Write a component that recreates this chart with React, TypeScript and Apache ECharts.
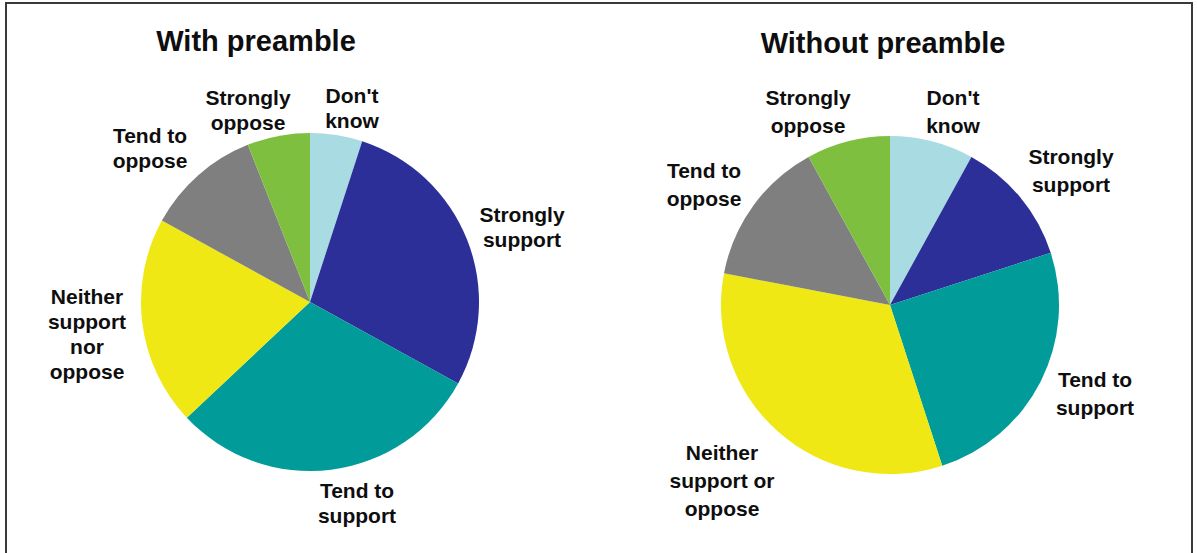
import React, { useEffect, useRef } from "react";
import * as echarts from "echarts";

const categories = [
  "Don't know",
  "Strongly support",
  "Tend to support",
  "Neither support nor oppose",
  "Tend to oppose",
  "Strongly oppose",
];
const withPreamble = [5, 28, 30, 20, 11, 6];
const withoutPreamble = [8, 12, 25, 33, 14, 8];
const labelsWith = [
  "Don't\nknow",
  "Strongly\nsupport",
  "Tend to\nsupport",
  "Neither\nsupport\nnor\noppose",
  "Tend to\noppose",
  "Strongly\noppose",
];
const labelsWithout = [
  "Don't\nknow",
  "Strongly\nsupport",
  "Tend to\nsupport",
  "Neither\nsupport or\noppose",
  "Tend to\noppose",
  "Strongly\noppose",
];
const titles = ["With preamble", "Without preamble"];

const COLORS = ["#a9dbe3", "#2c2f98", "#019b99", "#efe814", "#7f7f7f", "#7fbf3f"];
const LABEL_POS_LEFT: [number, number][] = [
  [352, 108],
  [522, 227],
  [357, 503],
  [87, 334],
  [150, 148],
  [248, 110],
];
const LABEL_POS_RIGHT: [number, number][] = [
  [953, 111],
  [1071, 170],
  [1095, 393],
  [722, 480],
  [704, 184],
  [808, 111],
];

const FONT = "'Liberation Sans', Arial, Helvetica, sans-serif";

function makeSeries(
  values: number[],
  labels: string[],
  center: [number, number],
  pos: [number, number][],
  lineHeight: number
) {
  return {
    type: "pie",
    center,
    radius: 169,
    startAngle: 90,
    clockwise: true,
    silent: true,
    avoidLabelOverlap: false,
    label: {
      show: true,
      position: "outside",
      formatter: (p: any) => labels[p.dataIndex],
      fontFamily: FONT,
      fontWeight: "bold",
      fontSize: 21,
      lineHeight,
      color: "#0e0e0e",
      align: "center",
    },
    labelLine: { show: false },
    labelLayout: (p: any) => ({
      x: pos[p.dataIndex][0],
      y: pos[p.dataIndex][1],
      align: "center",
      verticalAlign: "middle",
    }),
    itemStyle: { borderWidth: 0 },
    data: values.map((v, i) => ({
      name: categories[i],
      value: v,
      itemStyle: { color: COLORS[i] },
    })),
  };
}

export default function App() {
  const ref = useRef<HTMLDivElement>(null);
  useEffect(() => {
    document.body.style.margin = "0";
    if (!ref.current) return;
    const chart = echarts.init(ref.current, undefined, { renderer: "svg" });
    chart.setOption({
      animation: false,
      backgroundColor: "#ffffff",
      graphic: [
        {
          type: "rect",
          shape: { x: 6, y: 3, width: 1186, height: 600 },
          style: { fill: "none", stroke: "#3a3a3a", lineWidth: 2 },
          silent: true,
        },
        {
          type: "text",
          x: 256,
          y: 41,
          style: {
            text: titles[0],
            align: "center",
            verticalAlign: "middle",
            font: `bold 29px ${FONT}`,
            fill: "#0e0e0e",
          },
        },
        {
          type: "text",
          x: 883,
          y: 43,
          style: {
            text: titles[1],
            align: "center",
            verticalAlign: "middle",
            font: `bold 29px ${FONT}`,
            fill: "#0e0e0e",
          },
        },
      ],
      series: [
        makeSeries(withPreamble, labelsWith, [310, 302], LABEL_POS_LEFT, 25),
        makeSeries(withoutPreamble, labelsWithout, [890, 305], LABEL_POS_RIGHT, 28),
      ],
    });
    return () => chart.dispose();
  }, []);
  return <div ref={ref} style={{ width: 1197, height: 553 }} />;
}
